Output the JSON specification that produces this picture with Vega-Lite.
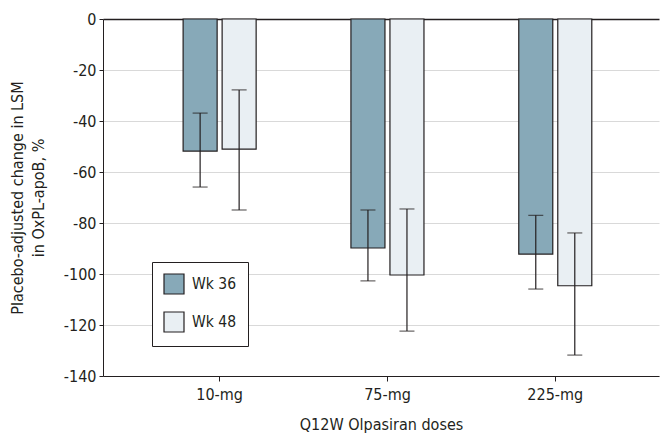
{
  "$schema": "https://vega.github.io/schema/vega-lite/v6.json",
  "width": 556,
  "height": 357,
  "autosize": "none",
  "padding": {"left": 103, "top": 19, "right": 9, "bottom": 65},
  "background": "white",
  "data": {
    "values": [
      {"dose": "10-mg", "week": "Wk 36", "value": -51.8, "lo": -65.9, "hi": -36.9},
      {"dose": "10-mg", "week": "Wk 48", "value": -51.0, "lo": -74.9, "hi": -27.8},
      {"dose": "75-mg", "week": "Wk 36", "value": -89.8, "lo": -102.7, "hi": -74.9},
      {"dose": "75-mg", "week": "Wk 48", "value": -100.4, "lo": -122.4, "hi": -74.5},
      {"dose": "225-mg", "week": "Wk 36", "value": -92.2, "lo": -105.9, "hi": -77.0},
      {"dose": "225-mg", "week": "Wk 48", "value": -104.6, "lo": -131.8, "hi": -83.9}
    ]
  },
  "encoding": {
    "x": {
      "field": "dose",
      "type": "nominal",
      "sort": ["10-mg", "75-mg", "225-mg"],
      "scale": {"paddingInner": 0.523, "paddingOuter": 0.418, "align": 0.546},
      "axis": {
        "title": "Q12W Olpasiran doses",
        "labelAngle": 0,
        "domainColor": "#231F20",
        "tickColor": "#231F20",
        "tickSize": 5,
        "labelPadding": 5,
        "titlePadding": 14
      }
    },
    "xOffset": {
      "field": "week",
      "type": "nominal",
      "scale": {"paddingInner": 0.128, "paddingOuter": 0.09}
    }
  },
  "layer": [
    {
      "mark": {"type": "bar", "stroke": "#231F20", "strokeWidth": 1.2},
      "encoding": {
        "y": {
          "field": "value",
          "type": "quantitative",
          "scale": {"domain": [-140, 0], "nice": false, "zero": false},
          "axis": {
            "title": ["Placebo-adjusted change in LSM", "in OxPL-apoB, %"],
            "values": [0, -20, -40, -60, -80, -100, -120, -140],
            "labelExpr": "'' + datum.value",
            "grid": true,
            "gridColor": {"condition": {"test": "datum.value === 0", "value": "#231F20"}, "value": "#D9D9D9"},
            "gridWidth": {"condition": {"test": "datum.value === 0", "value": 1.5}, "value": 1},
            "domainColor": "#231F20",
            "tickColor": "#231F20",
            "tickSize": 4,
            "labelPadding": 3,
            "titlePadding": 17,
            "titleLineHeight": 21
          }
        },
        "fill": {
          "field": "week",
          "type": "nominal",
          "scale": {"domain": ["Wk 36", "Wk 48"], "range": ["#87A9B8", "#E9EFF3"]},
          "legend": {
            "title": null,
            "orient": "none",
            "legendX": 49,
            "legendY": 243,
            "strokeColor": "#231F20",
            "fillColor": "white",
            "padding": 11,
            "symbolType": "square",
            "symbolSize": 400,
            "symbolStrokeColor": "#231F20",
            "symbolStrokeWidth": 1.2,
            "symbolOpacity": 1,
            "rowPadding": 12,
            "labelOffset": 7,
            "labelFontSize": 15.5,
            "labelColor": "#231F20",
            "labelFont": "DejaVu Sans Condensed"
          }
        }
      }
    },
    {
      "mark": {"type": "rule", "color": "#231F20", "strokeWidth": 1.2},
      "encoding": {
        "y": {"field": "lo", "type": "quantitative"},
        "y2": {"field": "hi"}
      }
    },
    {
      "mark": {"type": "tick", "color": "#231F20", "thickness": 1.2, "size": 15, "orient": "horizontal"},
      "encoding": {"y": {"field": "lo", "type": "quantitative"}}
    },
    {
      "mark": {"type": "tick", "color": "#231F20", "thickness": 1.2, "size": 15, "orient": "horizontal"},
      "encoding": {"y": {"field": "hi", "type": "quantitative"}}
    }
  ],
  "config": {
    "view": {"stroke": null},
    "font": "DejaVu Sans Condensed",
    "axis": {
      "labelFont": "DejaVu Sans Condensed",
      "titleFont": "DejaVu Sans Condensed",
      "labelFontSize": 16,
      "titleFontSize": 16,
      "titleFontWeight": "normal",
      "labelColor": "#231F20",
      "titleColor": "#231F20"
    }
  }
}
